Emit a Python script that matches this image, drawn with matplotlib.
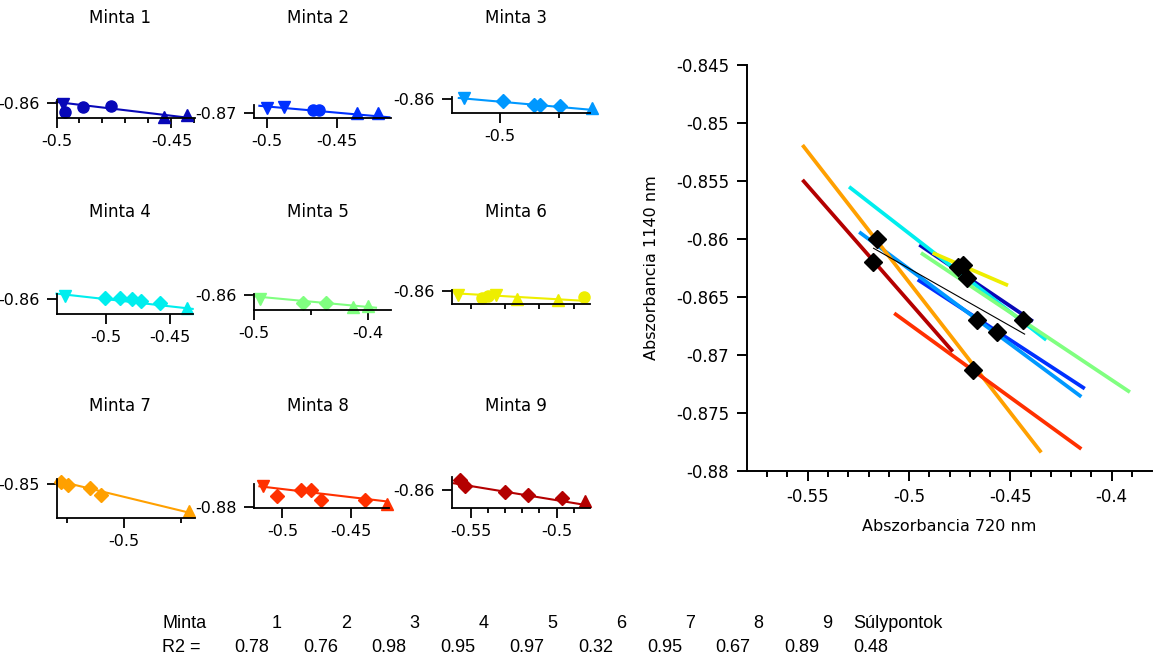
import matplotlib
matplotlib.use('Agg')
import matplotlib.pyplot as plt
from matplotlib.ticker import FixedLocator, FuncFormatter

W, H = 1168, 664
DPI = 100

plt.rcParams['font.family'] = ['DejaVu Sans']

# colours of the nine samples
colors = ['#0808b8', '#0030ff', '#0098ff', '#00eeee', '#80ff80',
          '#eeee00', '#ffa000', '#ff3000', '#b40000']

# measured points per sample: x = Abszorbancia 720 nm, y = Abszorbancia 1140 nm
m1_x = [-0.4972, -0.4961, -0.4884, -0.4765, -0.4533, -0.4434]
m1_y = [-0.8606, -0.8648, -0.86195, -0.86155, -0.8673, -0.8663]
m2_x = [-0.5, -0.4876, -0.467, -0.4629, -0.4354, -0.4202]
m2_y = [-0.8643, -0.8632, -0.8662, -0.867, -0.87, -0.8693]
m3_x = [-0.5061, -0.4995, -0.4942, -0.4931, -0.4897, -0.4844]
m3_y = [-0.85979, -0.8606, -0.8618, -0.8618, -0.8621, -0.86279]
m4_x = [-0.5323, -0.5009, -0.4889, -0.4799, -0.4724, -0.4575, -0.4365]
m4_y = [-0.85704, -0.8592, -0.8592, -0.86046, -0.86262, -0.86433, -0.87003]
m5_x = [-0.495, -0.4567, -0.4367, -0.4134, -0.4]
m5_y = [-0.8638, -0.8676, -0.8676, -0.8715, -0.8707]
m6_x = [-0.4936, -0.4868, -0.4849, -0.4825, -0.4764, -0.4646, -0.4569]
m6_y = [-0.86172, -0.86304, -0.862, -0.86172, -0.86332, -0.86372, -0.8624]
m7_x = [-0.511, -0.5097, -0.506, -0.504, -0.4886]
m7_y = [-0.8498, -0.85026, -0.85078, -0.85194, -0.85468]
m8_x = [-0.5138, -0.5041, -0.4861, -0.4791, -0.4722, -0.4402, -0.4236]
m8_y = [-0.8674, -0.8731, -0.86968, -0.86968, -0.87586, -0.87586, -0.87814]
m9_x = [-0.5562, -0.5533, -0.5301, -0.5165, -0.4971, -0.4835]
m9_y = [-0.853, -0.857, -0.8612, -0.8635, -0.8658, -0.8677]

# fitted lines shown in the small panels (end points)
f1_x = [-0.5, -0.4418];   f1_y = [-0.85965, -0.86765]
f2_x = [-0.5055, -0.412]; f2_y = [-0.8624, -0.8739]
f3_x = [-0.5069, -0.4841]; f3_y = [-0.8597, -0.8633]
f4_x = [-0.5389, -0.432]; f4_y = [-0.85396, -0.8714]
f5_x = [-0.5, -0.3933];   f5_y = [-0.8612, -0.8726]
f6_x = [-0.4946, -0.456]; f6_y = [-0.86104, -0.86412]
f7_x = [-0.5118, -0.4883]; f7_y = [-0.84947, -0.855]
f8_x = [-0.5167, -0.4236]; f8_y = [-0.8674, -0.87652]
f9_x = [-0.5597, -0.4806]; f9_y = [-0.8553, -0.871]

# lines in the large plot
big_x0 = [-0.4949, -0.4957, -0.5246, -0.5296, -0.4941, -0.4883, -0.5526, -0.5073, -0.5526]
big_y0 = [-0.8605, -0.8635, -0.8594, -0.8555, -0.8612, -0.8612, -0.8519, -0.8664, -0.8549]
big_x1 = [-0.4388, -0.4132, -0.4149, -0.4322, -0.3909, -0.4511, -0.4347, -0.4149, -0.4784]
big_y1 = [-0.8671, -0.8729, -0.8736, -0.8687, -0.8732, -0.8640, -0.8784, -0.8781, -0.8697]

# centroids (Súlypontok) and their fitted line
cent_x = [-0.4713, -0.4663, -0.4564, -0.4759, -0.4437, -0.4734, -0.5158, -0.4685, -0.518]
cent_y = [-0.8634, -0.8670, -0.8680, -0.8624, -0.8670, -0.8622, -0.8600, -0.8713, -0.8620]
cline_x = [-0.5175, -0.4429]
cline_y = [-0.8608, -0.8682]

# table at the bottom
table_head = ['1', '2', '3', '4', '5', '6', '7', '8', '9']
r2_values = [0.78, 0.76, 0.98, 0.95, 0.97, 0.32, 0.95, 0.67, 0.89]
r2_centroids = 0.48

pts_x = [m1_x, m2_x, m3_x, m4_x, m5_x, m6_x, m7_x, m8_x, m9_x]
pts_y = [m1_y, m2_y, m3_y, m4_y, m5_y, m6_y, m7_y, m8_y, m9_y]
fit_x = [f1_x, f2_x, f3_x, f4_x, f5_x, f6_x, f7_x, f8_x, f9_x]
fit_y = [f1_y, f2_y, f3_y, f4_y, f5_y, f6_y, f7_y, f8_y, f9_y]

# layout of the small panels, in pixels: left, right, top, bottom
panel_box = [(56.5, 194.7, 100.1, 118), (253.8, 391.2, 105, 118), (452.3, 590, 96.7, 113.3),
             (56.5, 192.7, 293.6, 314.2), (253.8, 391.2, 294.4, 309.6), (452.3, 590, 290, 304.3),
             (56.5, 194.7, 478.6, 517.9), (253.8, 389.3, 484.4, 508), (452.3, 590, 476.7, 507.7)]
panel_xlim = [(-0.5, -0.4399), (-0.5095, -0.4107), (-0.508, -0.4847),
              (-0.5389, -0.432), (-0.5, -0.38), (-0.4953, -0.4553),
              (-0.5118, -0.4876), (-0.5208, -0.4222), (-0.5607, -0.4806)]
panel_ylim = [(-0.86765, -0.8587), (-0.8746, -0.8616), (-0.86429, -0.85931),
              (-0.87744, -0.85396), (-0.8745, -0.8593), (-0.86544, -0.85972),
              (-0.85583, -0.84915), (-0.88042, -0.86626), (-0.87239, -0.85069)]
panel_xmajor = [[-0.5, -0.45], [-0.5, -0.45], [-0.5], [-0.5, -0.45], [-0.5, -0.4],
                [], [-0.5], [-0.5, -0.45], [-0.55, -0.5]]
panel_xminor = [[-0.49, -0.48, -0.47, -0.46, -0.44], [], [-0.49], [], [-0.45],
                [-0.49, -0.48, -0.47, -0.46], [-0.51, -0.49], [],
                [-0.54, -0.53, -0.52, -0.51, -0.49]]
panel_ytick = [-0.86, -0.87, -0.86, -0.86, -0.86, -0.86, -0.85, -0.88, -0.86]
panel_markers = [['v', 'o', 'o', 'o', '^', '^'],
                 ['v', 'v', 'o', 'o', '^', '^'],
                 ['v', 'D', 'D', 'D', 'D', '^'],
                 ['v', 'D', 'D', 'D', 'D', 'D', '^'],
                 ['v', 'D', 'D', '^', '^'],
                 ['v', 'o', 'o', 'v', '^', '^', 'o'],
                 ['D', 'D', 'D', 'D', '^'],
                 ['v', 'D', 'D', 'D', 'D', 'D', '^'],
                 ['D', 'D', 'D', 'D', 'D', '^']]
title_x = [120, 318, 516]
title_y = [18, 212, 406]

fmt = FuncFormatter(lambda v, p: '%g' % v)

fig = plt.figure(figsize=(W / DPI, H / DPI), dpi=DPI)


def px_axes(left, right, top, bottom):
    return fig.add_axes([left / W, 1 - bottom / H, (right - left) / W, (bottom - top) / H])


def style_axes(ax, lw, major, minor, fs, ypad, xpad):
    for s in ['top', 'right']:
        ax.spines[s].set_visible(False)
    for s in ['left', 'bottom']:
        ax.spines[s].set_linewidth(lw)
    ax.tick_params(which='major', direction='out', length=major, width=lw,
                   labelsize=fs, color='black')
    ax.tick_params(which='minor', direction='out', length=minor, width=lw)
    ax.tick_params(axis='y', pad=ypad)
    ax.tick_params(axis='x', pad=xpad)
    ax.patch.set_visible(False)


for i in range(9):
    ax = px_axes(*panel_box[i])
    style_axes(ax, 1.3, 7, 3.6, 11.5, 5.5, 4.5)
    ax.set_xlim(*panel_xlim[i])
    ax.set_ylim(*panel_ylim[i])
    ax.xaxis.set_major_locator(FixedLocator(panel_xmajor[i]))
    ax.xaxis.set_minor_locator(FixedLocator(panel_xminor[i]))
    ax.yaxis.set_major_locator(FixedLocator([panel_ytick[i]]))
    ax.xaxis.set_major_formatter(fmt)
    ax.yaxis.set_major_formatter(fmt)
    ax.plot(fit_x[i], fit_y[i], color=colors[i], lw=1.5, clip_on=False)
    for x, y, mk in zip(pts_x[i], pts_y[i], panel_markers[i]):
        ms = {'D': 7.5, 'o': 8}.get(mk, 8.5)
        ax.plot([x], [y], marker=mk, ms=ms, color=colors[i], mec=colors[i],
                ls='none', clip_on=False)
    fig.text(title_x[i % 3] / W, 1 - title_y[i // 3] / H, 'Minta %d' % (i + 1),
             ha='center', va='center', fontsize=12)

# large plot
ax = px_axes(747, 1152, 65, 471)
style_axes(ax, 1.4, 7.5, 4.5, 12, 5.5, 5)
ax.set_xlim(-0.58, -0.38)
ax.set_ylim(-0.88, -0.845)
ax.xaxis.set_major_locator(FixedLocator([-0.55, -0.5, -0.45, -0.4]))
ax.xaxis.set_minor_locator(FixedLocator([-0.57, -0.56, -0.54, -0.53, -0.52, -0.51,
                                         -0.49, -0.48, -0.47, -0.46, -0.44, -0.43,
                                         -0.42, -0.41, -0.39]))
ax.yaxis.set_major_locator(FixedLocator([-0.88, -0.875, -0.87, -0.865, -0.86,
                                         -0.855, -0.85, -0.845]))
ax.xaxis.set_major_formatter(fmt)
ax.yaxis.set_major_formatter(fmt)

for i in range(9):
    ax.plot([big_x0[i], big_x1[i]], [big_y0[i], big_y1[i]], color=colors[i],
            lw=2.7, solid_capstyle='butt')
ax.plot(cline_x, cline_y, color='black', lw=0.8)
ax.plot(cent_x, cent_y, ls='none', marker='D', ms=9, color='black')

ax.set_xlabel('Abszorbancia 720 nm', fontsize=11.5, va='center')
ax.set_ylabel('Abszorbancia 1140 nm', fontsize=11.5, va='center')
ax.xaxis.set_label_coords(0.5, -(526.7 - 471) / 406)
ax.yaxis.set_label_coords((652 - 747) / 405, 0.5)

# R2 table
tfont = dict(fontsize=13, family=['Liberation Sans', 'DejaVu Sans'], va='center')
row1_y = 1 - 624 / H
row2_y = 1 - 648 / H
fig.text(162 / W, row1_y, 'Minta', ha='left', **tfont)
fig.text(162 / W, row2_y, 'R2 =', ha='left', **tfont)
for i, lab in enumerate(table_head):
    fig.text((277 + 68.8 * i) / W, row1_y, lab, ha='center', **tfont)
    fig.text((234 + 68.8 * i) / W, row2_y, '%.2f' % r2_values[i], ha='left', **tfont)
fig.text(853 / W, row1_y, 'Súlypontok', ha='left', **tfont)
fig.text(853 / W, row2_y, '%.2f' % r2_centroids, ha='left', **tfont)

fig.savefig('out.png', dpi=DPI)
